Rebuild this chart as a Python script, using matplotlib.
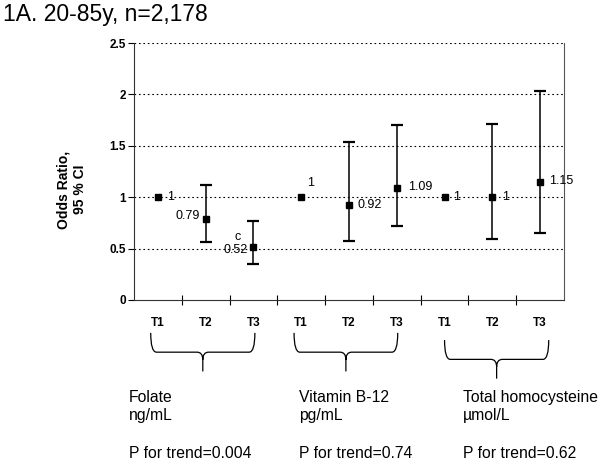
"""Odds ratios (95% CI) by tertile of folate, vitamin B-12 and total homocysteine."""

import matplotlib
import matplotlib.pyplot as plt
from matplotlib.path import Path
from matplotlib.patches import PathPatch

matplotlib.use("Agg")
plt.rcParams["font.family"] = ["Liberation Sans", "DejaVu Sans"]

# data
tertiles = ["T1", "T2", "T3", "T1", "T2", "T3", "T1", "T2", "T3"]
odds_ratio = [1.00, 0.79, 0.52, 1.00, 0.92, 1.09, 1.00, 1.00, 1.15]
ci_low = [None, 0.56, 0.35, None, 0.57, 0.72, None, 0.59, 0.65]
ci_high = [None, 1.12, 0.77, None, 1.54, 1.70, None, 1.71, 2.03]
point_labels = ["1", "0.79", "0.52", "1", "0.92", "1.09", "1", "1", "1.15"]
label_offsets = [(9, 0), (-6, 3), (-6, -3), (6, 14), (9, 0), (11, 1), (9, 0), (10, 0), (9, 1)]
label_align = ["left", "right", "right", "left", "left", "left", "left", "left", "left"]

groups = ["Folate", "Vitamin B-12", "Total homocysteine"]
units = ["ng/mL", "pg/mL", "\u00b5mol/L"]
p_trend = ["P for trend=0.004", "P for trend=0.74", "P for trend=0.62"]
brace_spans = [(-0.15, 2.03), (2.85, 5.02), (6.0, 8.18)]
brace_tops = [-0.128, -0.128, -0.156]
text_x = [129, 299, 463]


def draw_brace(ax, x0, x1, y_top):
    """Curly brace under the axis, x in data units, y in axes fraction."""
    trans = ax.get_xaxis_transform()
    depth = 0.075
    r_x = 0.12
    r_y = 0.03
    xc = (x0 + x1) / 2
    y_mid = y_top - depth
    y_tip = y_mid - depth
    verts = [
        (x0, y_top), (x0, y_mid), (x0 + r_x, y_mid),
        (xc - r_x, y_mid),
        (xc, y_mid), (xc, y_mid - r_y),
        (xc, y_tip),
        (xc, y_mid - r_y),
        (xc, y_mid), (xc + r_x, y_mid),
        (x1 - r_x, y_mid),
        (x1, y_mid), (x1, y_top),
    ]
    codes = [
        Path.MOVETO, Path.CURVE3, Path.CURVE3,
        Path.LINETO,
        Path.CURVE3, Path.CURVE3,
        Path.LINETO,
        Path.MOVETO,
        Path.CURVE3, Path.CURVE3,
        Path.LINETO,
        Path.CURVE3, Path.CURVE3,
    ]
    patch = PathPatch(Path(verts, codes), transform=trans, fill=False,
                      lw=0.9, color="black", clip_on=False)
    ax.add_patch(patch)


fig = plt.figure(figsize=(6.04, 4.62), dpi=100)
ax = fig.add_axes([134 / 604, 162 / 462, 430 / 604, 257 / 462])

x = list(range(len(tertiles)))
for i in x:
    if ci_low[i] is not None:
        ax.errorbar(i, odds_ratio[i],
                    yerr=[[odds_ratio[i] - ci_low[i]], [ci_high[i] - odds_ratio[i]]],
                    fmt="none", ecolor="black", elinewidth=1.1, capsize=4, capthick=1.6,
                    zorder=3)
ax.plot(x, odds_ratio, linestyle="none", marker="s", markersize=5,
        color="black", zorder=4)

for i in x:
    ax.annotate(point_labels[i], (i, odds_ratio[i]), textcoords="offset pixels",
                xytext=label_offsets[i], ha=label_align[i], va="center", fontsize=9,
                zorder=5)
ax.annotate("c", (2, odds_ratio[2]), textcoords="offset pixels", xytext=(-16, 10),
            ha="center", va="center", fontsize=9)

ax.set_xlim(-0.5, len(tertiles) - 0.5)
ax.set_ylim(0, 2.5)
ax.set_yticks([0, 0.5, 1, 1.5, 2, 2.5])
ax.set_yticklabels(["0", "0.5", "1", "1.5", "2", "2.5"], fontsize=8.5, fontweight="bold")
ax.set_xticks(x)
ax.set_xticklabels(tertiles, fontsize=8.5, fontweight="bold")
ax.set_xticks([i + 0.5 for i in x[:-1]], minor=True)
ax.tick_params(axis="x", which="major", length=0, pad=12)
ax.tick_params(axis="x", which="minor", direction="inout", length=7, width=0.8)
ax.tick_params(axis="y", direction="out", length=4, width=0.8, pad=2)

for yv in [0.5, 1, 1.5, 2, 2.5]:
    ax.axhline(yv, color="black", linestyle=(0, (1.5, 2.5)), linewidth=0.8, zorder=1)

ax.spines["top"].set_visible(False)
ax.spines["right"].set_color("#555555")
ax.spines["left"].set_color("#333333")
ax.spines["bottom"].set_color("#333333")

ax.set_ylabel("Odds Ratio,\n95 % CI", fontsize=10, fontweight="bold")
ax.yaxis.set_label_coords(-0.11, 0.43)

for (x0, x1), y_top in zip(brace_spans, brace_tops):
    draw_brace(ax, x0, x1, y_top)

for gx, name, unit, p in zip(text_x, groups, units, p_trend):
    fig.text(gx / 604, 1 - 402 / 462, name, fontsize=11.3, va="baseline", ha="left")
    fig.text(gx / 604, 1 - 420 / 462, unit, fontsize=11.3, va="baseline", ha="left")
    fig.text(gx / 604, 1 - 458 / 462, p, fontsize=11.3, va="baseline", ha="left")

fig.text(3 / 604, 1 - 21 / 462, "1A. 20-85y, n=2,178", fontsize=16.5, va="baseline", ha="left")

fig.savefig("out.png", dpi=100)
